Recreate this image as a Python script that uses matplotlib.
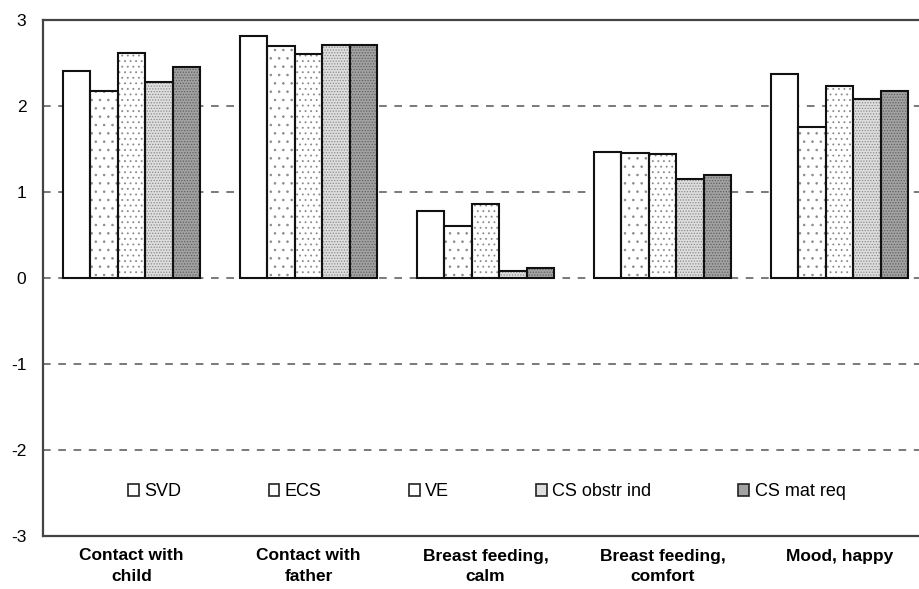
import matplotlib
matplotlib.use("Agg")
import matplotlib.pyplot as plt
import numpy as np
from matplotlib.patches import Patch

categories = ["Contact with\nchild", "Contact with\nfather", "Breast feeding,\ncalm",
              "Breast feeding,\ncomfort", "Mood, happy"]
series_names = ["SVD", "ECS", "VE", "CS obstr ind", "CS mat req"]
svd = [2.41, 2.81, 0.78, 1.46, 2.37]
ecs = [2.17, 2.70, 0.60, 1.45, 1.76]
ve = [2.62, 2.61, 0.86, 1.44, 2.23]
cs_obstr = [2.28, 2.71, 0.08, 1.15, 2.08]
cs_mat = [2.45, 2.71, 0.12, 1.20, 2.17]
yticks = [-3, -2, -1, 0, 1, 2, 3]

plt.rcParams['hatch.linewidth'] = 0.6

series = [svd, ecs, ve, cs_obstr, cs_mat]
faces = ["white", "white", "white", "#dedede", "#a2a2a2"]
hatches = [None, "..", "...", "......", "......"]
hatch_cols = [None, "#8a8a8a", "#8a8a8a", "#8a8a8a", "#606060"]

fig = plt.figure(figsize=(9.19, 5.89), dpi=100)
ax = fig.add_axes([43/919, 53/589, 885/919, 516/589])

x = np.arange(len(categories))
w = 0.155
for i, vals in enumerate(series):
    pos = x + (i - 2) * w
    if hatches[i]:
        ax.bar(pos, vals, w, color=faces[i], hatch=hatches[i], edgecolor=hatch_cols[i],
               linewidth=0, zorder=3)
    else:
        ax.bar(pos, vals, w, color=faces[i], linewidth=0, zorder=3)
    ax.bar(pos, vals, w, fill=False, edgecolor="#111111", linewidth=1.5, zorder=4)

ax.set_xlim(-0.5, len(categories) - 0.5)
ax.set_ylim(-3, 3)
ax.set_yticks(yticks)
ax.set_yticklabels([str(t) for t in yticks])
for t in [-2, -1, 0, 1, 2]:
    ax.axhline(t, color="#555555", linestyle=(0, (5, 5)), linewidth=1.1, zorder=1)

ax.set_xticks(x)
ax.set_xticklabels(categories, fontweight="bold", fontsize=12.5,
                   family=["Liberation Sans Narrow", "Liberation Sans", "DejaVu Sans"],
                   linespacing=1.45)
ax.tick_params(axis="x", length=0, pad=9)
ax.tick_params(axis="y", length=0, pad=12, labelsize=12.5)
for lab in ax.get_yticklabels():
    lab.set_family(["Liberation Sans", "DejaVu Sans"])

for s in ax.spines.values():
    s.set_color("#444444")
    s.set_linewidth(1.6)

handles = []
for i in range(5):
    handles.append(Patch(facecolor=faces[i], edgecolor="#222222", linewidth=1.2))
leg = fig.legend(handles, series_names, loc="center", bbox_to_anchor=(487/919, 1 - 492/589),
                 ncol=5, frameon=False, handlelength=0.6, handleheight=0.6,
                 handletextpad=0.3, columnspacing=4.82,
                 prop={"family": ["Liberation Sans", "DejaVu Sans"], "size": 13})

fig.savefig("out.png", dpi=100)
